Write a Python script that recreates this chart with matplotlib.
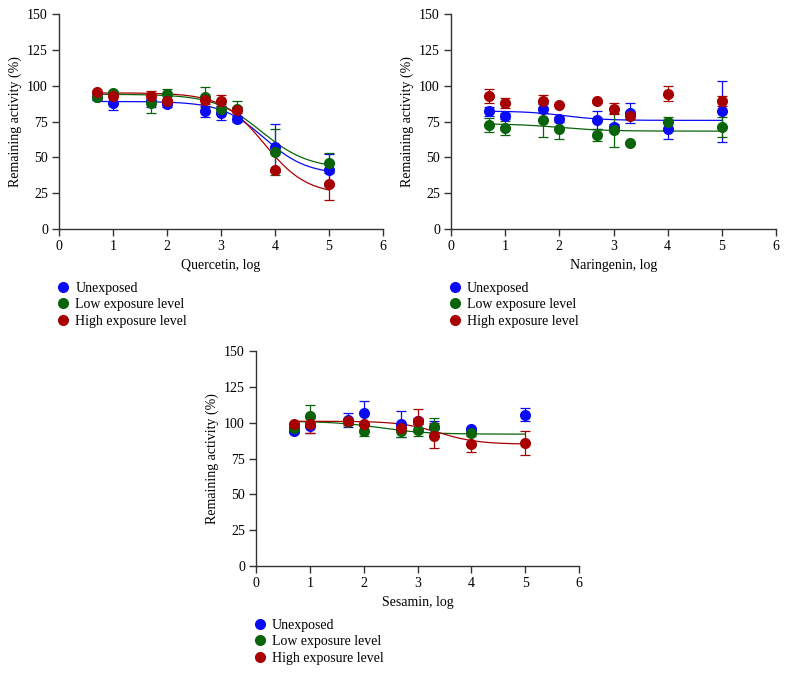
import matplotlib
matplotlib.use('Agg')
from matplotlib import pyplot as plt
from matplotlib.lines import Line2D
import numpy as np

plt.rcParams['font.family'] = ['Liberation Serif', 'DejaVu Serif']
plt.rcParams['font.size'] = 10

# log concentration on the x axis
x_log = [0.7, 1, 1.7, 2, 2.7, 3, 3.3, 4, 5]
series = ['Unexposed', 'Low exposure level', 'High exposure level']
colors = ['#0a0af5', '#0a640a', '#a80000']

# Quercetin
quer_unexp = [92, 88, 89, 87, 82, 81, 77, 57, 41]
quer_unexp_err = [2, 5, 4, 2, 4, 5, 2, 16, 11]
quer_low = [92, 95, 88, 94, 92, 84, 84, 54, 46]
quer_low_err = [1, 1, 7, 4, 7, 3, 5, 16, 7]
quer_high = [95.5, 93, 93, 89, 90, 89.5, 83, 41, 31.5]
quer_high_err = [1, 1, 3, 2, 3, 4, 2, 1, 11]
# sigmoid fit parameters: top, bottom, logEC50, hill
quer_fit = [(89, 38, 3.8, 1.1), (94, 42, 3.75, 1.0), (95, 24, 3.8, 1.1)]

# Naringenin
nar_unexp = [82, 79, 84, 76.5, 76, 71.5, 81, 69.5, 82]
nar_unexp_err = [3, 2, 3, 2, 6.5, 2, 7, 6.5, 21.5]
nar_low = [72.5, 70.5, 76, 70, 65.5, 69, 60, 74.5, 71.5]
nar_low_err = [5, 5, 12, 7, 4, 12, 1, 4, 7]
nar_high = [93, 88, 89, 86.5, 89, 84, 79, 94.5, 89]
nar_high_err = [5, 3.5, 4.5, 1, 1, 4, 2, 5.5, 3.5]
nar_fit = [(82.3, 75.8, 2.1, 1.2), (73.5, 68.3, 2.0, 1.0), None]

# Sesamin
ses_unexp = [94, 98, 102, 107, 99, 101, 97, 95.5, 105.5]
ses_unexp_err = [1, 5, 5, 8, 9, 2, 4.5, 1, 4.5]
ses_low = [96.5, 105, 100.5, 94.5, 94, 95, 97, 93, np.nan]
ses_low_err = [1, 7, 2, 3.5, 4, 4, 6, 1, np.nan]
ses_high = [99, 99, 101.5, 99, 96, 101.5, 91, 85, 86]
ses_high_err = [1, 6, 1, 1, 1, 8, 8.5, 5.5, 8.5]
ses_fit = [None, (101, 92, 2.3, 1.0), (101, 85, 3.4, 1.2)]


def logistic(x, top, bottom, c, h):
    return bottom + (top - bottom) / (1 + 10 ** ((x - c) * h))


def panel(ax, name, vals, errs, fits):
    for k in range(3):
        ax.errorbar(x_log, vals[k], yerr=errs[k], fmt='none', ecolor=colors[k],
                    elinewidth=0.9, capsize=3.5, capthick=0.9, zorder=2 + k)
        if fits[k] is not None:
            xx = np.linspace(0.7, 5, 200)
            ax.plot(xx, logistic(xx, *fits[k]), color=colors[k], lw=0.9, zorder=2 + k)
        ax.plot(x_log, vals[k], 'o', color=colors[k], ms=8, mew=0, zorder=5 + k)
    ax.set_xlim(0, 6)
    ax.set_ylim(0, 150)
    ax.set_xticks(range(7))
    ax.set_yticks(range(0, 151, 25))
    for s in ['top', 'right']:
        ax.spines[s].set_visible(False)
    for s in ['left', 'bottom']:
        ax.spines[s].set_color('#333333')
        ax.spines[s].set_linewidth(1)
    ax.tick_params(direction='out', length=5, width=1, color='#333333', pad=3)
    ax.set_xlabel(name + ', log')
    ax.set_ylabel('Remaining activity (%)')
    ax.xaxis.set_label_coords(0.5, -0.14)
    ax.yaxis.set_label_coords(-0.115, 0.5)
    handles = [Line2D([], [], ls='none', marker='o', ms=8, mew=0, color=c) for c in colors]
    ax.legend(handles, series, loc='upper left', bbox_to_anchor=(-0.008, -0.245),
              frameon=False, borderpad=0, borderaxespad=0, handlelength=0.9,
              handletextpad=0.45, labelspacing=0.25, fontsize=10)


fig = plt.figure(figsize=[7.86, 6.74], dpi=100)
ax1 = fig.add_axes([0.0751, 0.6602, 0.4122, 0.319])
ax2 = fig.add_axes([0.5738, 0.6602, 0.4135, 0.319])
ax3 = fig.add_axes([0.3257, 0.1602, 0.411, 0.319])

panel(ax1, 'Quercetin', [quer_unexp, quer_low, quer_high],
      [quer_unexp_err, quer_low_err, quer_high_err], quer_fit)
panel(ax2, 'Naringenin', [nar_unexp, nar_low, nar_high],
      [nar_unexp_err, nar_low_err, nar_high_err], nar_fit)
panel(ax3, 'Sesamin', [ses_unexp, ses_low, ses_high],
      [ses_unexp_err, ses_low_err, ses_high_err], ses_fit)

plt.savefig('out.png', dpi=100)
